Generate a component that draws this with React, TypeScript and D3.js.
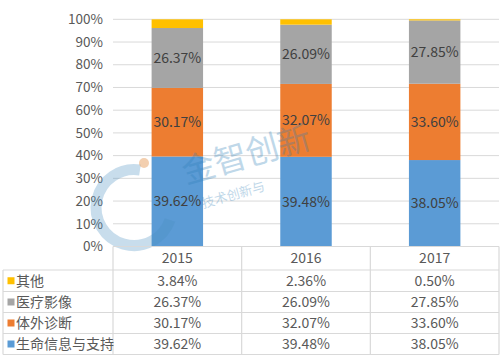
import React from "react";
import * as d3 from "d3";

const years = ["2015", "2016", "2017"];
const seriesNames = ["生命信息与支持", "体外诊断", "医疗影像", "其他"];
const lifeSupport = [39.62, 39.48, 38.05];
const ivd = [30.17, 32.07, 33.6];
const imaging = [26.37, 26.09, 27.85];
const other = [3.84, 2.36, 0.5];
const yTicks = [0, 10, 20, 30, 40, 50, 60, 70, 80, 90, 100];
const colors = ["#5B9BD5", "#ED7D31", "#A5A5A5", "#FFC000"];

const seriesValues = [lifeSupport, ivd, imaging, other];

export default function App() {
  const W = 503;
  const H = 358;
  const left = 113;
  const right = 499;
  const top = 19.3;
  const bottom = 246.5;
  const tableLeft = 3;
  const rowEdges = [246.5, 270, 291.5, 312.5, 333.5, 354.5];

  const x = d3.scaleBand().domain(years).range([left, right]).paddingInner(0.6).paddingOuter(0.3);
  const colScale = d3.scaleBand().domain(years).range([left, right]);
  const y = d3.scaleLinear().domain([0, 100]).range([bottom, top]);

  const table = years.map((yr, i) => {
    const o: any = { year: yr };
    seriesNames.forEach((s, k) => (o[s] = seriesValues[k][i]));
    return o;
  });
  const stacked = d3.stack<any>().keys(seriesNames)(table);

  const font = "'Microsoft YaHei', 'Noto Sans CJK SC', 'Noto Sans', sans-serif";
  const txt = "#595959";
  const grid = "#D9D9D9";

  const rowOrder = [3, 2, 1, 0];

  return (
    <svg width={W} height={H} style={{ position: "absolute", left: 0, top: 0, fontFamily: font }}>
      <rect width={W} height={H} fill="#fff" />
      {yTicks.map((t) => (
        <g key={t}>
          {t > 0 && <line x1={left} x2={right} y1={y(t)} y2={y(t)} stroke={grid} strokeWidth={1} />}
          <text x={103} y={y(t)} dy="0.35em" textAnchor="end" fontSize={13.5} fill={txt}>
            {t}%
          </text>
        </g>
      ))}
      {stacked.map((layer, k) => (
        <g key={layer.key}>
          {layer.map((d, i) => (
            <rect
              key={i}
              x={x(years[i])}
              width={x.bandwidth()}
              y={y(d[1])}
              height={y(d[0]) - y(d[1])}
              fill={colors[k]}
            />
          ))}
        </g>
      ))}
      {/* watermark */}
      <g opacity={0.3} fill="none" stroke="#4a90c0">
        <path d="M 140 170 A 38 38 0 1 0 170 220" strokeWidth={11} />
      </g>
      <circle cx={144} cy={163} r={5} fill="#e8a060" opacity={0.5} />
      <g transform="translate(186,184) rotate(-16)" opacity={0.3} fill="#2f7fb8">
        <text x={0} y={0} fontSize={33}>金智创新</text>
        <text x={10} y={28} fontSize={13}>技术创新与</text>
      </g>
      {stacked.slice(0, 3).map((layer, k) => (
        <g key={"l" + layer.key}>
          {layer.map((d, i) => (
            <text
              key={i}
              x={x(years[i])! + x.bandwidth() / 2}
              y={(y(d[0]) + y(d[1])) / 2}
              dy="0.35em"
              textAnchor="middle"
              fontSize={14}
              fill="#404040"
            >
              {seriesValues[k][i].toFixed(2)}%
            </text>
          ))}
        </g>
      ))}
      <g stroke={grid} strokeWidth={1.2}>
        <line x1={left} x2={right} y1={rowEdges[0]} y2={rowEdges[0]} />
        {rowEdges.slice(1).map((ry, i) => (
          <line key={i} x1={tableLeft} x2={right} y1={ry} y2={ry} />
        ))}
        <line x1={tableLeft} x2={tableLeft} y1={rowEdges[1]} y2={rowEdges[5]} />
        {[left, ...years.map((yr) => colScale(yr)! + colScale.bandwidth())].map((cx, i) => (
          <line key={i} x1={cx} x2={cx} y1={rowEdges[0]} y2={rowEdges[5]} />
        ))}
      </g>
      {years.map((yr) => (
        <text
          key={yr}
          x={colScale(yr)! + colScale.bandwidth() / 2}
          y={(rowEdges[0] + rowEdges[1]) / 2}
          dy="0.35em"
          textAnchor="middle"
          fontSize={14}
          fill={txt}
        >
          {yr}
        </text>
      ))}
      {rowOrder.map((k, r) => {
        const cy = (rowEdges[r + 1] + rowEdges[r + 2]) / 2;
        return (
          <g key={k}>
            <rect x={7.5} y={cy - 3.5} width={7} height={7} fill={colors[k]} />
            <text x={16} y={cy} dy="0.35em" fontSize={14} fill={txt}>
              {seriesNames[k]}
            </text>
            {years.map((yr, i) => (
              <text
                key={yr}
                x={colScale(yr)! + colScale.bandwidth() / 2}
                y={cy}
                dy="0.35em"
                textAnchor="middle"
                fontSize={14}
                fill={txt}
              >
                {seriesValues[k][i].toFixed(2)}%
              </text>
            ))}
          </g>
        );
      })}
    </svg>
  );
}
